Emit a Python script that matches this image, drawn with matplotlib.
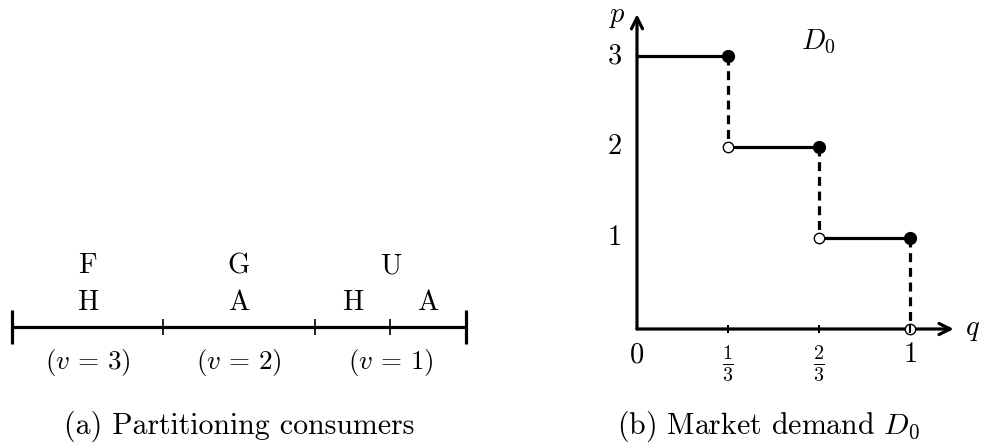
import matplotlib
matplotlib.use("Agg")
import matplotlib.pyplot as plt

plt.rcParams["mathtext.fontset"] = "cm"
plt.rcParams["axes.formatter.use_mathtext"] = True

# ---- panel (a): consumer partition --------------------------------------
boundaries = [0, 1/3, 2/3, 5/6, 1]
firm_labels = ["F", "G", "U"]
firm_centers = [1/6, 1/2, 5/6]
choice_labels = ["H", "A", "H", "A"]
choice_centers = [1/6, 1/2, 3/4, 11/12]
value_labels = [r"$(v\,=\,3)$", r"$(v\,=\,2)$", r"$(v\,=\,1)$"]

# ---- panel (b): market demand step function -----------------------------
q_steps = [0, 1/3, 2/3, 1]
p_levels = [3, 2, 1, 0]
q_tick_labels = [r"$0$", r"$\frac{1}{3}$", r"$\frac{2}{3}$", r"$1$"]
p_tick_labels = ["3", "2", "1"]

W, H = 981, 445
fig = plt.figure(figsize=(W / 100, H / 100), dpi=100)
RM = "cmr10"
FS = 20.5
FS_CAP = 21.5
FS_VAL = 19.5

# panel (a) axes: x in population share, y in layout rows (pixels, top down)
x0_px, x1_px = 12, 466
sc = x1_px - x0_px
axa = fig.add_axes([0, 0, 500 / W, 1])
axa.set_xlim(-x0_px / sc, (500 - x0_px) / sc)
axa.set_ylim(H, 0)
axa.axis("off")

y_line = 327
axa.plot([boundaries[0], boundaries[-1]], [y_line, y_line], color="black",
         lw=2.3, solid_capstyle="butt")
for i, b in enumerate(boundaries):
    end = i in (0, len(boundaries) - 1)
    half = 17 if end else 8
    axa.plot([b, b], [y_line - half, y_line + half], color="black",
             lw=2.3 if end else 1.2, solid_capstyle="butt")

for lab, c in zip(firm_labels, firm_centers):
    axa.text(c, 273, lab, family=RM, fontsize=FS, ha="center", va="baseline")
for lab, c in zip(choice_labels, choice_centers):
    axa.text(c, 310, lab, family=RM, fontsize=FS, ha="center", va="baseline")
for lab, c in zip(value_labels, firm_centers):
    axa.text(c, 362, lab, fontsize=FS_VAL, ha="center", va="center")
axa.text(0.5, 434, "(a) Partitioning consumers", family=RM, fontsize=FS_CAP,
         ha="center", va="baseline")

# panel (b) axes: data coordinates (q, p)
ox, oy = 637, 329
qs, ps = 273, 91
axb = fig.add_axes([520 / W, 0, (W - 520) / W, 1])
axb.set_xlim((520 - ox) / qs, (W - ox) / qs)
axb.set_ylim(-(H - oy) / ps, oy / ps)
axb.axis("off")

LW = 2.3
# axes with arrow heads
axb.annotate("", xy=(1.16, 0), xytext=(0, 0),
             arrowprops=dict(arrowstyle="->", lw=LW, color="black",
                             shrinkA=0, shrinkB=0, mutation_scale=20))
axb.annotate("", xy=(0, 3.46), xytext=(0, 0),
             arrowprops=dict(arrowstyle="->", lw=LW, color="black",
                             shrinkA=0, shrinkB=0, mutation_scale=20))
axb.text(1.23, 0.0, r"$q$", fontsize=FS, ha="center", va="center")
axb.text(-0.07, 3.44, r"$p$", fontsize=FS, ha="center", va="center")

# demand steps
for i in range(3):
    axb.plot([q_steps[i], q_steps[i + 1]], [p_levels[i], p_levels[i]],
             color="black", lw=LW, solid_capstyle="butt", zorder=2)
    axb.plot([q_steps[i + 1], q_steps[i + 1]], [p_levels[i], p_levels[i + 1]],
             color="black", lw=LW, linestyle=(0, (2.8, 1.8)), zorder=2)
# open circles at the lower end of each jump
axb.plot(q_steps[1:], p_levels[1:], linestyle="none", marker="o",
         markersize=7.5, markerfacecolor="white", markeredgecolor="black",
         markeredgewidth=1.0, zorder=3)
# filled circles at the upper end
axb.plot(q_steps[1:], p_levels[:3], linestyle="none", marker="o",
         markersize=8.5, color="black", zorder=4)

# x ticks, drawn over the markers
for q in q_steps[1:]:
    axb.plot([q, q], [-0.045, 0.045], color="black", lw=1.5,
             solid_capstyle="butt", zorder=5)
for q, lab in zip(q_steps, q_tick_labels):
    yy = -0.38 if "frac" in lab else -0.28
    axb.text(q, yy, lab, fontsize=FS, ha="center", va="center")
for p, lab in zip(p_levels[:3], p_tick_labels):
    axb.text(-0.08, p, lab, family=RM, fontsize=FS, ha="center", va="center")

axb.text(0.665, 3.155, r"$D_0$", fontsize=FS, ha="center", va="center")
axb.text(0.482, -(434 - oy) / ps, r"(b) Market demand $D_0$", family=RM,
         fontsize=FS_CAP, ha="center", va="baseline")

fig.savefig("out.png", dpi=100)
